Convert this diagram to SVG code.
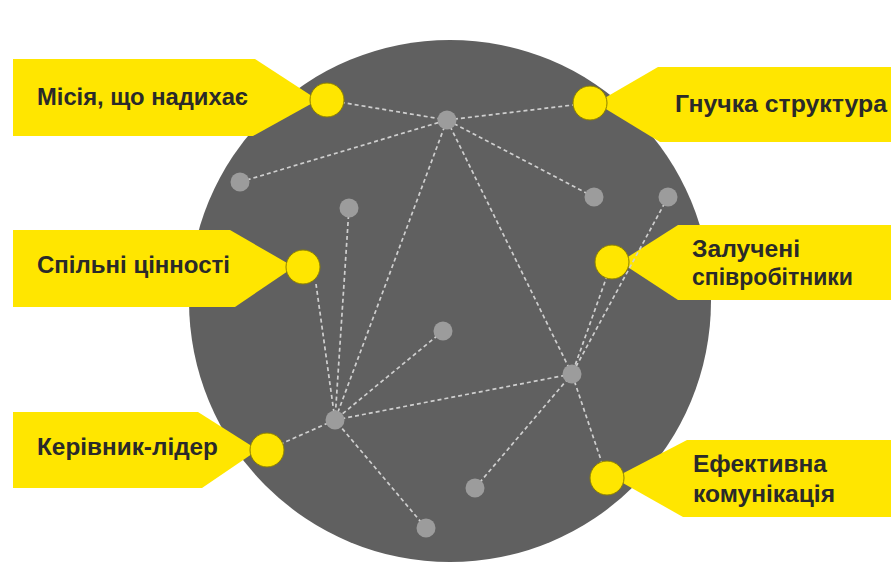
<svg xmlns="http://www.w3.org/2000/svg" width="891" height="563" viewBox="0 0 891 563">
<style>
.banner{fill:#ffe600}
.pin{fill:#ffe600;stroke:#8c8000;stroke-width:1}
.dot{fill:#9c9c9c}
.link{stroke:#cfcfcf;stroke-width:1.7;stroke-dasharray:4 3;fill:none}
.lbl{font-family:"Liberation Sans",Arial,sans-serif;font-weight:bold;font-size:23.5px;fill:#2a2a2a}
</style>
<rect width="891" height="563" fill="#ffffff"/>
<circle id="disc" cx="450" cy="301" r="261" fill="#606060"/>
<g id="banners">
<polygon class="banner" points="13,59 255,59 318,100 253,136 13,136"/>
<polygon class="banner" points="891,67 658,67 596,103 660,142 891,142"/>
<polygon class="banner" points="13,230 230,230 294,267 235,307 13,307"/>
<polygon class="banner" points="891,225 678,225 620,262 678,300 891,300"/>
<polygon class="banner" points="13,412 198,412 258,450 202,488 13,488"/>
<polygon class="banner" points="891,440 687,440 614,478 683,517 891,517"/>
</g>
<g id="connectors">
<line class="link" x1="327" y1="100" x2="447" y2="120"/>
<line class="link" x1="590" y1="103" x2="447" y2="120"/>
<line class="link" x1="240" y1="182" x2="447" y2="120"/>
<line class="link" x1="594" y1="197" x2="447" y2="120"/>
<line class="link" x1="447" y1="120" x2="335" y2="420"/>
<line class="link" x1="447" y1="120" x2="572" y2="374"/>
<line class="link" x1="316" y1="284" x2="335" y2="420"/>
<line class="link" x1="349" y1="208" x2="335" y2="420"/>
<line class="link" x1="443" y1="331" x2="335" y2="420"/>
<line class="link" x1="572" y1="374" x2="335" y2="420"/>
<line class="link" x1="267" y1="450" x2="335" y2="420"/>
<line class="link" x1="426" y1="528" x2="335" y2="420"/>
<line class="link" x1="475" y1="488" x2="572" y2="374"/>
<line class="link" x1="607" y1="478" x2="572" y2="374"/>
<line class="link" x1="668" y1="197" x2="572" y2="374"/>
<line class="link" x1="612" y1="262" x2="572" y2="374"/>
</g>
<g id="dots">
<circle class="dot" cx="447" cy="120" r="9.5"/>
<circle class="dot" cx="240" cy="182" r="9.5"/>
<circle class="dot" cx="349" cy="208" r="9.5"/>
<circle class="dot" cx="594" cy="197" r="9.5"/>
<circle class="dot" cx="668" cy="197" r="9.5"/>
<circle class="dot" cx="443" cy="331" r="9.5"/>
<circle class="dot" cx="572" cy="374" r="9.5"/>
<circle class="dot" cx="335" cy="420" r="9.5"/>
<circle class="dot" cx="475" cy="488" r="9.5"/>
<circle class="dot" cx="426" cy="528" r="9.5"/>
</g>
<g id="n-mission">
<circle class="pin" cx="327" cy="100" r="17"/>
<text class="lbl" x="37" y="105" textLength="211" lengthAdjust="spacingAndGlyphs">Місія, що надихає</text>
</g>
<g id="n-structure">
<circle class="pin" cx="590" cy="103" r="17"/>
<text class="lbl" x="675" y="112" textLength="212" lengthAdjust="spacingAndGlyphs">Гнучка структура</text>
</g>
<g id="n-values">
<circle class="pin" cx="303" cy="267" r="17"/>
<text class="lbl" x="37" y="273" textLength="193" lengthAdjust="spacingAndGlyphs">Спільні цінності</text>
</g>
<g id="n-employees">
<circle class="pin" cx="612" cy="262" r="17"/>
<text class="lbl" x="692" y="257" textLength="108" lengthAdjust="spacingAndGlyphs">Залучені</text>
<text class="lbl" x="692" y="285" textLength="161" lengthAdjust="spacingAndGlyphs">співробітники</text>
</g>
<g id="n-leader">
<circle class="pin" cx="267" cy="450" r="17"/>
<text class="lbl" x="37" y="455" textLength="181" lengthAdjust="spacingAndGlyphs">Керівник-лідер</text>
</g>
<g id="n-communication">
<circle class="pin" cx="607" cy="478" r="17"/>
<text class="lbl" x="693" y="472" textLength="134" lengthAdjust="spacingAndGlyphs">Ефективна</text>
<text class="lbl" x="693" y="502" textLength="142" lengthAdjust="spacingAndGlyphs">комунікація</text>
</g>
</svg>
